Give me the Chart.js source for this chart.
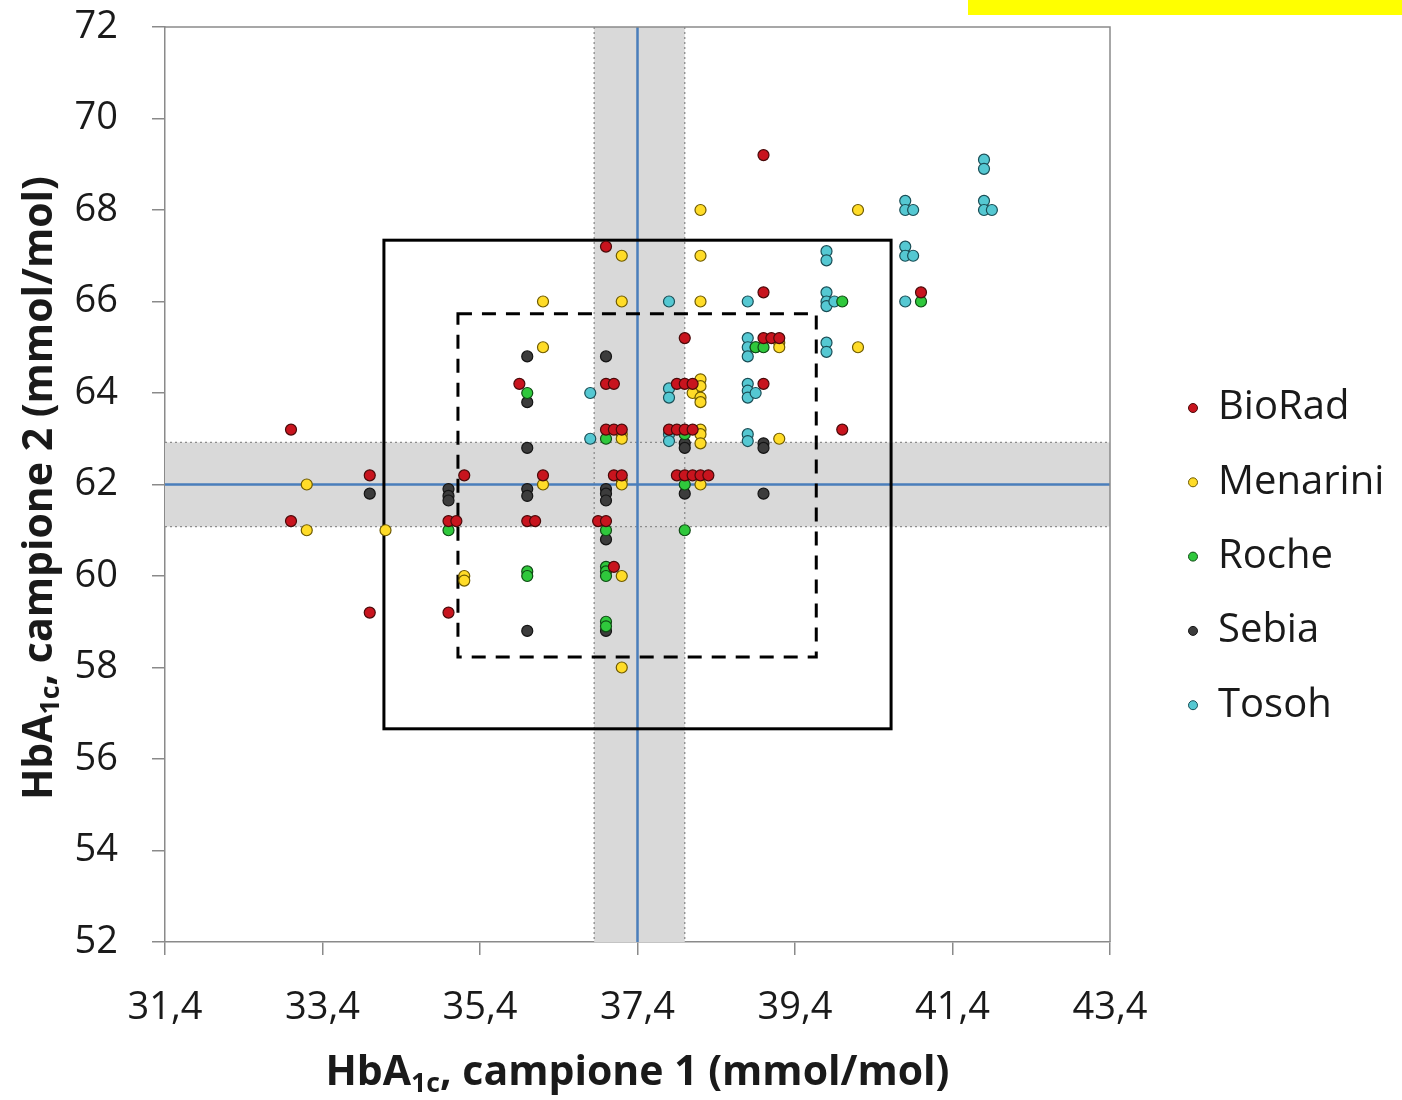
<!DOCTYPE html>
<html>
<head>
<meta charset="utf-8">
<script src="https://cdn.jsdelivr.net/npm/chart.js@4.4.0/dist/chart.umd.min.js"></script>
<style>
  html, body { margin: 0; padding: 0; background: #fff; }
</style>
</head>
<body>
<canvas id="chart" width="1402" height="1100"></canvas>
<script>
// Axis ranges and tick labels
var xMin = 31.4, xMax = 43.4;
var yMin = 52, yMax = 72;
var xTicks = [31.4, 33.4, 35.4, 37.4, 39.4, 41.4, 43.4];
var yTicks = [52, 54, 56, 58, 60, 62, 64, 66, 68, 70, 72];

// Reference values (target, acceptance bands, limit boxes)
var centerX = 37.4, centerY = 62;
var bandX = [36.85, 38.0];
var bandY = [61.08, 62.92];
var outerBox = [34.18, 40.62, 56.66, 67.34]; // x from, x to, y from, y to
var innerBox = [35.12, 39.67, 58.23, 65.73];

// Series: [campione 1, campione 2]
var bioRad = [
  [33.0, 63.2], [34.0, 62.2], [33.0, 61.2], [35.0, 61.2], [35.1, 61.2], [35.2, 62.2],
  [34.0, 59.2], [35.0, 59.2], [36.2, 62.2], [36.0, 61.2], [36.1, 61.2], [35.9, 64.2],
  [37.0, 64.2], [37.1, 64.2], [37.0, 63.2], [37.1, 63.2], [37.2, 63.2], [37.1, 62.2],
  [37.2, 62.2], [36.9, 61.2], [37.0, 61.2], [37.1, 60.2], [38.0, 65.2], [37.9, 64.2],
  [38.0, 64.2], [38.1, 64.2], [37.8, 63.2], [37.9, 63.2], [38.0, 63.2], [38.1, 63.2],
  [37.9, 62.2], [38.0, 62.2], [38.1, 62.2], [38.2, 62.2], [38.3, 62.2], [39.0, 66.2],
  [39.0, 65.2], [39.1, 65.2], [39.2, 65.2], [39.0, 64.2], [40.0, 63.2], [39.0, 69.2],
  [41.0, 66.2], [37.0, 67.2]
];
var menarini = [
  [33.2, 62.0], [33.2, 61.0], [34.2, 61.0], [35.2, 60.0], [35.2, 59.9], [36.2, 62.0],
  [36.2, 66.0], [37.2, 66.0], [38.2, 66.0], [36.2, 65.0], [37.2, 63.1], [37.2, 63.0],
  [37.2, 62.1], [37.2, 62.0], [37.2, 60.0], [38.2, 68.0], [38.2, 67.0], [38.2, 64.3],
  [38.2, 64.15], [38.1, 64.0], [38.2, 63.9], [38.2, 63.8], [38.2, 63.2], [38.2, 63.1],
  [38.2, 62.9], [39.2, 63.0], [38.2, 62.0], [39.2, 65.1], [39.2, 65.0], [40.2, 68.0],
  [40.2, 65.0], [37.2, 67.0], [37.2, 58.0]
];
var roche = [
  [35.0, 61.0], [36.0, 60.1], [36.0, 60.0], [36.0, 64.0], [37.0, 63.0], [37.0, 61.0],
  [37.0, 60.2], [37.0, 60.1], [37.0, 60.0], [37.0, 59.0], [37.0, 58.9], [38.9, 65.0],
  [39.0, 65.0], [38.0, 63.1], [38.0, 62.0], [38.0, 61.0], [40.0, 66.0], [41.0, 66.0]
];
var sebia = [
  [34.0, 61.8], [35.0, 61.9], [35.0, 61.75], [35.0, 61.65], [36.0, 63.8], [36.0, 62.8],
  [36.0, 61.9], [36.0, 61.75], [36.0, 58.8], [36.0, 64.8], [37.0, 64.8], [37.0, 61.9],
  [37.0, 61.8], [37.0, 61.65], [37.0, 60.8], [37.0, 58.8], [38.0, 62.9], [38.0, 62.8],
  [39.0, 62.9], [39.0, 62.8], [38.0, 61.8], [39.0, 61.8]
];
var tosoh = [
  [37.8, 66.0], [38.8, 66.0], [39.8, 67.1], [39.8, 66.9], [39.8, 66.2], [39.8, 66.0],
  [39.8, 65.9], [39.9, 66.0], [36.8, 64.0], [36.8, 63.0], [37.8, 64.1], [37.8, 63.9],
  [38.8, 65.2], [38.8, 65.0], [38.8, 64.8], [38.9, 65.0], [38.8, 64.2], [38.8, 64.05],
  [38.8, 63.9], [38.9, 64.0], [37.8, 63.1], [37.8, 62.95], [38.8, 63.1], [38.8, 62.95],
  [39.8, 65.1], [39.8, 64.9], [40.8, 68.2], [40.8, 68.0], [40.9, 68.0], [41.8, 69.1],
  [41.8, 68.9], [41.8, 68.2], [41.8, 68.0], [41.9, 68.0], [40.8, 67.2], [40.8, 67.0],
  [40.9, 67.0], [40.8, 66.0]
];

var seriesNames = ["BioRad", "Menarini", "Roche", "Sebia", "Tosoh"];
var seriesData = [bioRad, menarini, roche, sebia, tosoh];
var seriesFill = ["#c8141e", "#ffdc28", "#2fc83c", "#3c3c3c", "#55c8d2"];
var seriesBorder = ["#4a0a0a", "#6e5a00", "#0f4a14", "#141414", "#1a4e56"];

var fontFamily = "'Open Sans', 'Noto Sans', sans-serif";

function toPoints(list) {
  return list.map(function (p) { return { x: p[0], y: p[1] }; });
}

// Bands, target lines and limit boxes under the points
var referencePlugin = {
  id: "reference",
  beforeDatasetsDraw: function (chart) {
    var ctx = chart.ctx, a = chart.chartArea;
    var xs = chart.scales.x, ys = chart.scales.y;
    ctx.save();

    var bx1 = xs.getPixelForValue(bandX[0]), bx2 = xs.getPixelForValue(bandX[1]);
    var by1 = ys.getPixelForValue(bandY[1]), by2 = ys.getPixelForValue(bandY[0]);
    ctx.fillStyle = "#d9d9d9";
    ctx.fillRect(bx1, a.top, bx2 - bx1, a.bottom - a.top);
    ctx.fillRect(a.left, by1, a.right - a.left, by2 - by1);

    ctx.strokeStyle = "#8c8c8c";
    ctx.lineWidth = 1.3;
    ctx.setLineDash([2, 3]);
    ctx.beginPath();
    ctx.moveTo(bx1, a.top); ctx.lineTo(bx1, a.bottom);
    ctx.moveTo(bx2, a.top); ctx.lineTo(bx2, a.bottom);
    ctx.moveTo(a.left, by1); ctx.lineTo(a.right, by1);
    ctx.moveTo(a.left, by2); ctx.lineTo(a.right, by2);
    ctx.stroke();
    ctx.setLineDash([]);

    // target lines
    var cx = xs.getPixelForValue(centerX), cy = ys.getPixelForValue(centerY);
    ctx.strokeStyle = "#4a7ebb";
    ctx.lineWidth = 2.5;
    ctx.beginPath();
    ctx.moveTo(cx, a.top); ctx.lineTo(cx, a.bottom);
    ctx.moveTo(a.left, cy); ctx.lineTo(a.right, cy);
    ctx.stroke();

    // limit boxes
    function box(b, dash) {
      var x1 = xs.getPixelForValue(b[0]), x2 = xs.getPixelForValue(b[1]);
      var y1 = ys.getPixelForValue(b[3]), y2 = ys.getPixelForValue(b[2]);
      ctx.setLineDash(dash);
      ctx.strokeStyle = "#000";
      ctx.lineWidth = 3;
      ctx.strokeRect(x1, y1, x2 - x1, y2 - y1);
    }
    box(outerBox, []);
    box(innerBox, [14, 10]);
    ctx.setLineDash([]);

    // frame top and right
    ctx.strokeStyle = "#8a8a8a";
    ctx.lineWidth = 1.5;
    ctx.beginPath();
    ctx.moveTo(a.left, a.top); ctx.lineTo(a.right, a.top); ctx.lineTo(a.right, a.bottom);
    ctx.stroke();
    ctx.restore();
  }
};

function drawRich(ctx, parts, size) {
  var total = 0;
  parts.forEach(function (p) {
    ctx.font = "bold " + (p.sub ? size * 0.65 : size) + "px " + fontFamily;
    p.w = ctx.measureText(p.t).width;
    total += p.w;
  });
  var x = -total / 2;
  parts.forEach(function (p) {
    ctx.font = "bold " + (p.sub ? size * 0.65 : size) + "px " + fontFamily;
    ctx.fillText(p.t, x, p.sub ? size * 0.28 : 0);
    x += p.w;
  });
}

// Axis titles with subscript and the legend on the right
var labelsPlugin = {
  id: "labels",
  afterDraw: function (chart) {
    var ctx = chart.ctx, a = chart.chartArea;
    ctx.save();
    ctx.fillStyle = "#1a1a1a";
    ctx.textBaseline = "middle";
    ctx.textAlign = "left";

    ctx.save();
    ctx.translate((a.left + a.right) / 2, 1073);
    drawRich(ctx, [{ t: "HbA" }, { t: "1c", sub: true }, { t: ", campione 1 (mmol/mol)" }], 41);
    ctx.restore();

    ctx.save();
    ctx.translate(40, 488);
    ctx.rotate(-Math.PI / 2);
    drawRich(ctx, [{ t: "HbA" }, { t: "1c", sub: true }, { t: ", campione 2 (mmol/mol)" }], 41);
    ctx.restore();

    // legend
    var lx = a.right + 83;
    seriesNames.forEach(function (name, i) {
      var ly = 408 + i * 74.3;
      ctx.beginPath();
      ctx.arc(lx, ly, 4.5, 0, Math.PI * 2);
      ctx.fillStyle = seriesFill[i];
      ctx.fill();
      ctx.lineWidth = 1;
      ctx.strokeStyle = seriesBorder[i];
      ctx.stroke();
      ctx.fillStyle = "#1a1a1a";
      ctx.font = "40px " + fontFamily;
      ctx.fillText(name, lx + 25, ly);
    });

    // yellow highlight strip at the top right
    ctx.fillStyle = "#ffff00";
    ctx.fillRect(968, 0, 434, 15);
    ctx.restore();
  }
};

var datasets = seriesNames.map(function (name, i) {
  return {
    label: name,
    data: toPoints(seriesData[i]),
    backgroundColor: seriesFill[i],
    borderColor: seriesBorder[i],
    borderWidth: 1.2,
    pointRadius: 5.5,
    pointHoverRadius: 5.5
  };
});

var ctx = document.getElementById("chart").getContext("2d");
var chart = new Chart(ctx, {
  type: "scatter",
  data: { datasets: datasets },
  plugins: [referencePlugin, labelsPlugin],
  options: {
    responsive: false,
    animation: false,
    layout: { padding: { top: 27, right: 292, left: 0, bottom: 0 } },
    plugins: { legend: { display: false }, tooltip: { enabled: false } },
    scales: {
      x: {
        type: "linear",
        min: xMin,
        max: xMax,
        afterBuildTicks: function (scale) {
          scale.ticks = xTicks.map(function (v) { return { value: v }; });
        },
        afterFit: function (scale) { scale.height = 158; },
        grid: { drawOnChartArea: false, drawTicks: true, tickLength: 13, color: "#8a8a8a", lineWidth: 1.5 },
        border: { display: true, color: "#8a8a8a", width: 1.5 },
        ticks: {
          padding: 30,
          color: "#1a1a1a",
          font: { family: fontFamily, size: 38 },
          maxRotation: 0,
          autoSkip: false,
          callback: function (v) { return v.toFixed(1).replace(".", ","); }
        }
      },
      y: {
        type: "linear",
        min: yMin,
        max: yMax,
        afterBuildTicks: function (scale) {
          scale.ticks = yTicks.map(function (v) { return { value: v }; });
        },
        afterFit: function (scale) {
          scale.width = 165;
          scale.paddingTop = 0;
          scale.paddingBottom = 0;
        },
        grid: { drawOnChartArea: false, drawTicks: true, tickLength: 13, color: "#8a8a8a", lineWidth: 1.5 },
        border: { display: true, color: "#8a8a8a", width: 1.5 },
        ticks: {
          padding: 34,
          color: "#1a1a1a",
          font: { family: fontFamily, size: 38 },
          autoSkip: false,
          callback: function (v) { return String(v); }
        }
      }
    }
  }
});
</script>
</body>
</html>
